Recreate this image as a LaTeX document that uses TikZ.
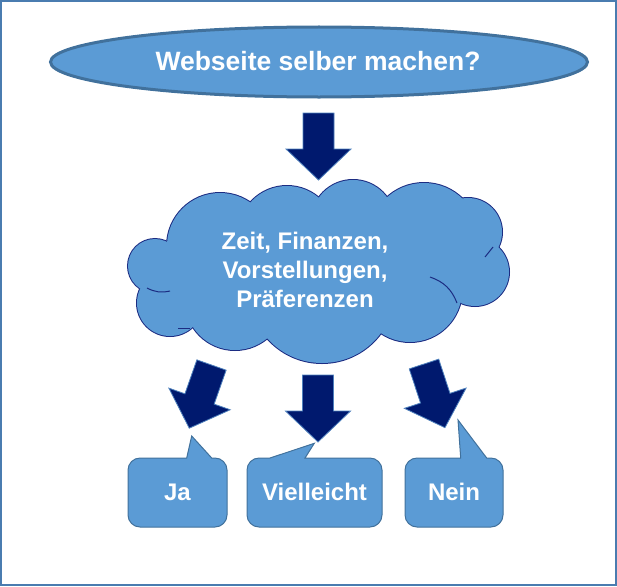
\documentclass[tikz,border=0pt]{standalone}
\usepackage{fontspec}
\setmainfont{Liberation Sans}
\usetikzlibrary{shapes.geometric}
\definecolor{fillblue}{HTML}{5B9BD5}
\definecolor{edgeblue}{HTML}{41719C}
\definecolor{framecol}{HTML}{4A7CB0}
\definecolor{navyfill}{HTML}{00196E}
\definecolor{navyedge}{HTML}{4F81BD}
\definecolor{cloudedge}{HTML}{1C2C82}
\newcommand\mkcallout[8]{% L T R B pl pr tipx tipy
  \draw[calloutbox] (#5,#2) -- (#7,#8) -- (#6,#2) -- (#3-12,#2)
    .. controls (#3-5.4,#2) and (#3,#2+5.4) .. (#3,#2+12)
    -- (#3,#4-12) .. controls (#3,#4-5.4) and (#3-5.4,#4) .. (#3-12,#4)
    -- (#1+12,#4) .. controls (#1+5.4,#4) and (#1,#4-5.4) .. (#1,#4-12)
    -- (#1,#2+12) .. controls (#1,#2+5.4) and (#1+5.4,#2) .. (#1+12,#2) -- cycle;}
\begin{document}
\begin{tikzpicture}[x=1pt,y=-1pt,
  whitetxt/.style={text=white,font=\bfseries\fontsize{24}{29}\selectfont,inner sep=0pt},
  calloutbox/.style={fill=fillblue,draw=edgeblue,line width=1pt,line join=miter},
  blockarrow/.style={fill=navyfill,draw=navyedge,line width=0.8pt,line join=miter},
  barrow/.pic={\draw[blockarrow] (-15.5,0) -- (15.5,0) -- (15.5,36) -- (32.5,36) -- (0,67)
      -- (-32.5,36) -- (-15.5,36) -- cycle;}]
\useasboundingbox (0,0) rectangle (617,586);
\draw[framecol,line width=2pt] (1,1) rectangle (616,585);

% question ellipse
\node[ellipse,draw=edgeblue,line width=3pt,fill=fillblue,minimum width=537pt,
      minimum height=70pt,inner sep=0pt] (q) at (319,62) {};
\node[whitetxt,font=\bfseries\fontsize{26.5}{30}\selectfont] (qt) at (318,61) {Webseite selber machen?};

% arrow down
\pic at (318.5,113) {barrow};

% cloud: union of puffs
\begin{scope}
\foreach \cx/\cy/\r in {155/266/27,170/303/33,235/300/50,322/290/73,410/290/52,475/272/34,
                       468/232/34,424/238/55,353/222/42,287/235/49,220/246/53}{
  \draw[cloudedge,line width=2pt] (\cx,\cy) circle[radius=\r pt];}
\foreach \cx/\cy/\r in {155/266/27,170/303/33,235/300/50,322/290/73,410/290/52,475/272/34,
                       468/232/34,424/238/55,353/222/42,287/235/49,220/246/53}{
  \fill[fillblue] (\cx,\cy) circle[radius=\r pt];}
\fill[fillblue] (320,270) ellipse[x radius=150pt,y radius=60pt];
\draw[cloudedge,line width=1pt] (147,288) to[bend right=20] (170,291);
\draw[cloudedge,line width=1pt] (178,328) -- (190,328);
\draw[cloudedge,line width=1pt] (430,277) to[bend left=25] (457,303);
\draw[cloudedge,line width=1pt] (485,257) -- (493,247);
\end{scope}
\node[whitetxt,align=center] (c) at (305,270) {Zeit, Finanzen,\\Vorstellungen,\\Präferenzen};

% three arrows
\pic[rotate=-19.4] at (211.5,365) {barrow};
\pic at (318,375) {barrow};
\pic[rotate=18.2] at (424,364) {barrow};

% callouts
\mkcallout{128}{458}{227}{527}{186.7}{211.7}{191.7}{436}
\mkcallout{247}{458}{382}{527}{270}{305}{314.3}{443.3}
\mkcallout{405}{458}{503}{527}{460.7}{486.7}{458}{420}
\node[whitetxt] (ja) at (177.5,492) {Ja};
\node[whitetxt] (vl) at (314.5,492) {Vielleicht};
\node[whitetxt] (nein) at (454,492) {Nein};
\end{tikzpicture}
\end{document}
